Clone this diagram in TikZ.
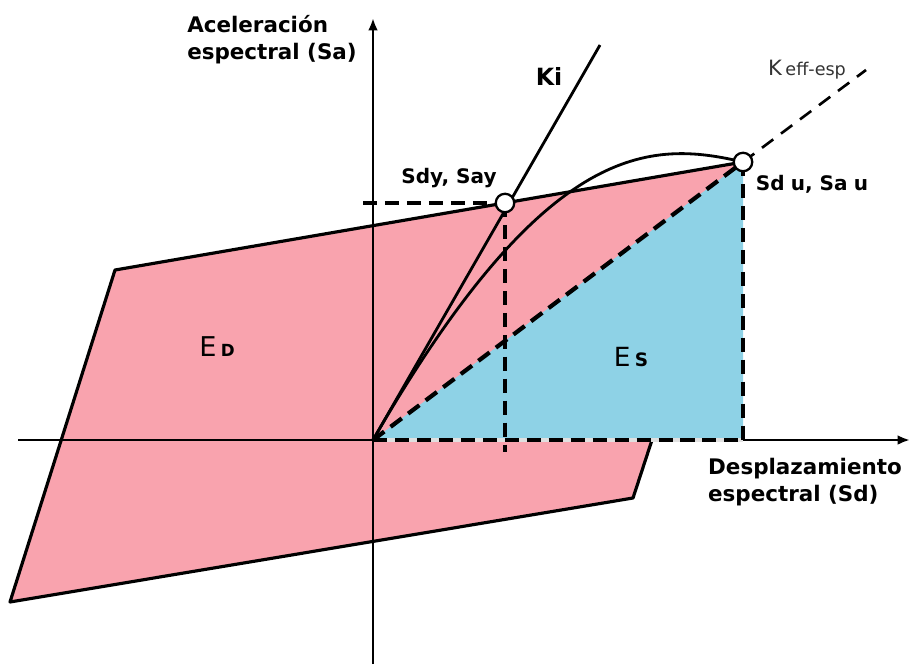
\documentclass[tikz,border=0pt]{standalone}
\usepackage{fontspec}
\setmainfont{DejaVu Sans}
\usetikzlibrary{arrows.meta}
\definecolor{rosa}{RGB}{249,163,174}
\definecolor{celeste}{RGB}{142,210,230}
\begin{document}
\begin{tikzpicture}[x=0.02cm, y=-0.02cm,
    axis/.style={line width=1.4pt, -{Latex[length=7pt, width=5.5pt]}},
    guide/.style={line width=2.4pt, dash pattern=on 8pt off 4.5pt},
    curve/.style={line width=1.6pt},
    point/.style={circle, draw, line width=1.3pt, fill=white, minimum size=0.37cm, inner sep=0pt},
    lbl/.style={font=\bfseries\fontsize{12.2}{15.5}\selectfont, align=left, inner sep=0pt}]
    \useasboundingbox (0,0) rectangle (912,664);

    \coordinate (O) at (373,440);
    \coordinate (c1) at (115,270);
    \coordinate (Pu) at (743,162);
    \coordinate (c3) at (633,498);
    \coordinate (c4) at (10,602);
    \coordinate (Py) at (505,203);
    \coordinate (Su) at (743,440);
    \coordinate (Sy) at (505,452);
    \coordinate (Ay) at (363,203);
    \coordinate (ytop) at (373,18);
    \coordinate (ybot) at (373,664);
    \coordinate (xleft) at (18,440);
    \coordinate (xright) at (910,440);
    \coordinate (ki) at (600,45);
    \coordinate (keff) at (866,70);

    \filldraw[fill=rosa, line width=1.8pt, line join=round] (c1) -- (Pu) -- (c3) -- (c4) -- cycle;
    \fill[celeste] (O) -- (Su) -- (Pu) -- cycle;

    \draw[axis] (ybot) -- (ytop);
    \draw[axis] (xleft) -- (xright);

    \draw[curve] (O) -- (ki);
    \draw[curve] (O) .. controls (546,140) and (650,140) .. (Pu);
    \draw[line width=1.5pt, dash pattern=on 8pt off 5.5pt] (Pu) -- (keff);

    \draw[guide, preaction={draw, solid, line width=2.4pt, black!12}] (O) -- (Su);
    \draw[guide] (O) -- (Pu);
    \draw[guide] (Ay) -- (Py);
    \draw[guide] (Py) -- (Sy);
    \draw[guide] (Pu) -- (Su);

    \node[point] (sdy) at (Py) {};
    \node[point] (sdu) at (Pu) {};

    \node[lbl] (ylab) at (272,40) {Aceleración\\espectral (Sa)};
    \node[lbl] (xlab) at (805,482) {Desplazamiento\\espectral (Sd)};
    \node[lbl, font=\bfseries\fontsize{11.4}{13}\selectfont] (sdylab) at (449,178) {Sdy, Say};
    \node[lbl, font=\bfseries\fontsize{11.4}{13}\selectfont] (sdulab) at (812,184) {Sd\kern3.5pt u, Sa\kern3.5pt u};
    \node[lbl, font=\bfseries\fontsize{13.5}{15}\selectfont] (kilab) at (549,76) {Ki};
    \node[inner sep=0pt, text=black!80, font=\fontsize{12}{14}\selectfont] (kefflab) at (807,70) {K\kern2pt{\fontsize{10}{12}\selectfont eff-esp}};
    \node[inner sep=0pt, font=\fontsize{15.5}{17}\selectfont] (edlab) at (217,347) {E\kern2.5pt{\bfseries\fontsize{9.5}{11}\selectfont D}};
    \node[inner sep=0pt, font=\fontsize{15}{17}\selectfont] (eslab) at (631,357) {E\kern2.5pt{\bfseries\fontsize{10.5}{11}\selectfont S}};
\end{tikzpicture}
\end{document}
